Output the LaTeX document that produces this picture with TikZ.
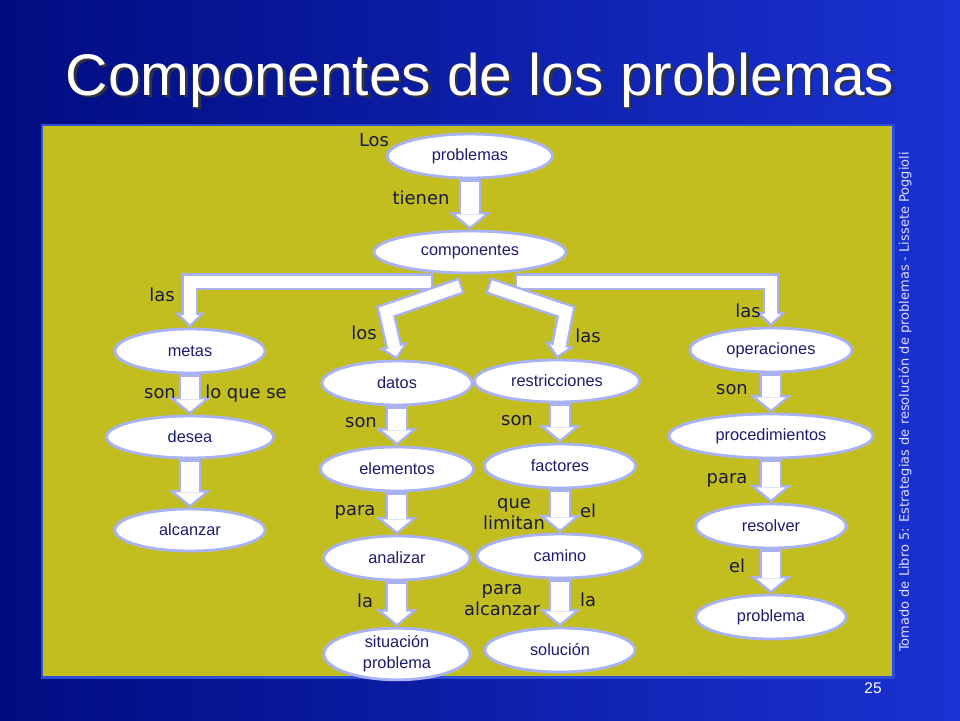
\documentclass[tikz,border=0pt]{standalone}
\usepackage{fontspec}
\setmainfont{Liberation Sans}
\newfontfamily\rotulo{DejaVu Sans}
\usetikzlibrary{shapes.geometric,calc,arrows.meta}

\definecolor{fondoA}{HTML}{000C80}
\definecolor{fondoB}{HTML}{1A32D2}
\definecolor{oliva}{HTML}{C2BE1F}
\definecolor{marco}{HTML}{2E4ED6}
\definecolor{lila}{HTML}{A9B2F2}
\definecolor{tinta}{HTML}{1C1C6E}
\definecolor{texto}{HTML}{1A1A3C}

\tikzset{
  elipse/.style={ellipse, draw=lila, line width=1.6pt, fill=white, inner sep=0pt,
    minimum height=0.88cm, text=tinta, font=\fontsize{9.3}{12}\selectfont, align=center},
  rot/.style={text=texto, font=\rotulo\fontsize{10.2}{12}\selectfont, align=center, inner sep=0pt},
  borde/.style={draw=lila, line width=13pt,
    -{Triangle[width=24pt,length=10pt,line width=1.3pt,fill=white,color=lila]}},
  cuerpo/.style={draw=white, line width=10.1pt, shorten >=8.6pt, shorten <=1.3pt},
  bordeR/.style={draw=lila, line width=9.6pt,
    -{Triangle[width=17pt,length=8.5pt,line width=1.3pt,fill=white,color=lila]}},
  cuerpoR/.style={draw=white, line width=6.8pt, shorten >=7.2pt, shorten <=1.3pt},
}
% flecha de bloque: contorno lila y relleno blanco
\newcommand{\flecha}[2][]{\draw[borde#1] #2; \draw[cuerpo#1] #2;}

\begin{document}
\begin{tikzpicture}[x=0.02cm,y=-0.02cm]
  \useasboundingbox (0,0) rectangle (960,720);
  \shade[left color=fondoA, right color=fondoB] (0,0) rectangle (960,720);

  % titulo
  \node[text=black!80, font=\fontsize{33.4}{40}\selectfont, anchor=base] (sombra) at (482.5,97.5) {Componentes de los problemas};
  \node[text=white, font=\fontsize{33.4}{40}\selectfont, anchor=base] (titulo) at (480,95) {Componentes de los problemas};

  \draw[marco, fill=oliva, line width=1.7pt] (42,125) rectangle (893,677);

  % nodos
  \node[elipse, minimum width=3.3cm] (problemas) at (470,156) {problemas};
  \node[elipse, minimum width=3.84cm, minimum height=0.84cm] (componentes) at (470,252) {componentes};
  \node[elipse, minimum width=3cm] (metas) at (190,351) {metas};
  \node[elipse, minimum width=3cm] (datos) at (397,383) {datos};
  \node[elipse, minimum width=3.3cm, minimum height=0.84cm] (restricciones) at (557,381) {restricciones};
  \node[elipse, minimum width=3.24cm] (operaciones) at (771,350) {operaciones};
  \node[elipse, minimum width=3.34cm, minimum height=0.84cm] (desea) at (190,437) {desea};
  \node[elipse, minimum width=3.06cm] (elementos) at (397,469) {elementos};
  \node[elipse, minimum width=3.02cm] (factores) at (560,466) {factores};
  \node[elipse, minimum width=4.08cm] (procedimientos) at (771,436) {procedimientos};
  \node[elipse, minimum width=3cm, minimum height=0.84cm] (alcanzar) at (190,530) {alcanzar};
  \node[elipse, minimum width=2.92cm] (analizar) at (397,558) {analizar};
  \node[elipse, minimum width=3.32cm] (camino) at (560,556) {camino};
  \node[elipse, minimum width=3cm] (resolver) at (771,526) {resolver};
  \node[elipse, minimum width=2.92cm, minimum height=0.96cm] (situacion) at (397,654) {situación\\problema};
  \node[elipse, minimum width=3cm] (solucion) at (560,650) {solución};
  \node[elipse, minimum width=3cm] (problema) at (771,617) {problema};

  % flechas
  \flecha{(problemas) -- (componentes)}
  \flecha[R]{($(componentes.south)+(-37,7.5)$) -| (metas.north)}
  \flecha[R]{($(componentes.south)+(45,7.5)$) -| (operaciones.north)}
  \flecha[R]{($(componentes.south)+(-8,11)$) -- ($(datos.north)+(-11,-48)$) -- (datos.north)}
  \flecha[R]{($(componentes.south)+(18,11)$) -- ($(restricciones.north)+(9,-47)$) -- (restricciones.north)}
  \flecha{(metas) -- (desea)}
  \flecha{(desea) -- (alcanzar)}
  \flecha{(datos) -- (elementos)}
  \flecha{(elementos) -- (analizar)}
  \flecha{(analizar) -- (situacion)}
  \flecha{(restricciones.south -| factores) -- (factores)}
  \flecha{(factores) -- (camino)}
  \flecha{(camino) -- (solucion)}
  \flecha{(operaciones) -- (procedimientos)}
  \flecha{(procedimientos) -- (resolver)}
  \flecha{(resolver) -- (problema)}

  % rotulos
  \node[rot] (los1) at (374,140) {Los};
  \node[rot] (tienen) at (421,198) {tienen};
  \node[rot] (las1) at (162,295) {las};
  \node[rot] (los2) at (364,333) {los};
  \node[rot] (las2) at (588,336) {las};
  \node[rot] (las3) at (748,311) {las};
  \node[rot] (son1) at (160,394) {son};
  \node[rot] (loquese) at (246,394) {lo que se};
  \node[rot] (son2) at (361,423) {son};
  \node[rot] (son3) at (517,421) {son};
  \node[rot] (son4) at (732,390) {son};
  \node[rot] (para1) at (355,512) {para};
  \node[rot] (quelimitan) at (514,514) {que\\limitan};
  \node[rot] (el1) at (588,511) {el};
  \node[rot] (para2) at (727,480) {para};
  \node[rot] (el2) at (737,566) {el};
  \node[rot] (la1) at (365,601) {la};
  \node[rot] (paraalcanzar) at (502,600) {para\\alcanzar};
  \node[rot] (la2) at (588,600) {la};

  \node[rotate=90, text=white!88!blue, font=\rotulo\fontsize{7.4}{8}\selectfont, inner sep=0pt] (fuente) at (905,402)
    {Tomado de Libro 5: Estrategias de resolución de problemas - Lissete Poggioli};
  \node[text=white, font=\fontsize{8.8}{10}\selectfont] (pagina) at (873,688) {25};
\end{tikzpicture}
\end{document}
